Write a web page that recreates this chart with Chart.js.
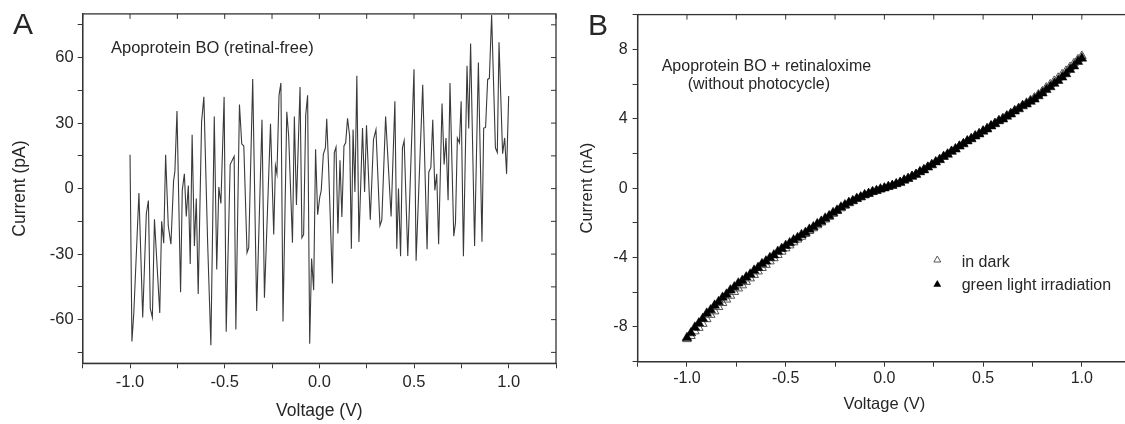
<!DOCTYPE html>
<html lang="en">
<head>
<meta charset="utf-8">
<title>Apoprotein BO current-voltage curves</title>
<style>
  html, body { margin: 0; padding: 0; background: #fff; overflow: hidden; }
  #wrap { position: relative; width: 1125px; height: 424px; overflow: hidden; }
  #chartA { position: absolute; left: 0; top: 0; }
  #chartB { position: absolute; left: 560px; top: 0; }
</style>
</head>
<body>
<div id="wrap">
  <canvas id="chartA" width="560" height="424"></canvas>
  <canvas id="chartB" width="580" height="424"></canvas>
</div>
<script src="https://cdn.jsdelivr.net/npm/chart.js"></script>
<script>
// panel A - apoprotein only, noisy trace in pA (vertices)
const voltsA = [-1.0, -0.99, -0.98, -0.953, -0.933, -0.914, -0.903, -0.893, -0.882, -0.871,
  -0.843, -0.833, -0.822, -0.812, -0.798, -0.784, -0.77, -0.763, -0.752, -0.733,
  -0.724, -0.713, -0.703, -0.692, -0.682, -0.672, -0.66, -0.65, -0.64, -0.622,
  -0.61, -0.59, -0.573, -0.555, -0.542, -0.531, -0.52, -0.503, -0.492, -0.471,
  -0.45, -0.441, -0.422, -0.41, -0.399, -0.382, -0.373, -0.352, -0.331, -0.303,
  -0.29, -0.258, -0.241, -0.232, -0.224, -0.213, -0.203, -0.192, -0.172, -0.162,
  -0.142, -0.132, -0.121, -0.102, -0.092, -0.083, -0.072, -0.062, -0.051, -0.041,
  -0.03, -0.02, -0.009, 0.002, 0.01, 0.021, 0.032, 0.039, 0.049, 0.069,
  0.079, 0.088, 0.098, 0.109, 0.119, 0.13, 0.139, 0.149, 0.16, 0.169,
  0.178, 0.188, 0.198, 0.209, 0.228, 0.239, 0.249, 0.269, 0.286, 0.299,
  0.32, 0.33, 0.35, 0.379, 0.399, 0.409, 0.418, 0.429, 0.439, 0.448,
  0.467, 0.5, 0.511, 0.546, 0.569, 0.578, 0.589, 0.599, 0.61, 0.62,
  0.63, 0.648, 0.659, 0.669, 0.68, 0.69, 0.71, 0.719, 0.729, 0.74,
  0.749, 0.761, 0.78, 0.789, 0.799, 0.82, 0.84, 0.859, 0.868, 0.878,
  0.889, 0.898, 0.91, 0.93, 0.94, 0.949, 0.968, 0.979, 0.989, 1.0];
const currentA = [15.5, -70, -57, -2, -59, -11.5, -5.5, -55, -59, -14,
  -57, -15, -25, 15.5, -17, -25.5, 3.5, 8, 35.5, -47.5,
  -0.7, 6.8, -12.8, 1.4, -34.5, 24.7, -26.3, -4.5, -48.3, 30.7,
  42, -25, -71.7, 33, -37, 0.7, -6.8, 42, -65.5, 11,
  14.8, -64.5, 38.5, 20.5, 19.5, -29.3, -27, 50.2, -56, 31.5,
  -50, 29.7, -21, 10.5, 6.7, 42.7, 48.4, -60.8, 35.2, 24,
  -24.8, 33, -7.5, 46.5, -22.5, -21, 33.7, 42.7, -71, -32,
  -46.5, 18, -12, -4, -0.8, 15.7, 18.7, 32, 9.7, -43.5,
  16.5, 19, -20.6, 13, -13, 19.5, 21, 32.2, 24, -27.5,
  27, -1.5, 51.7, -24.5, 27.7, -1.5, 29, -14.3, 22.5, 27,
  -17, -14.3, 33, -12.8, 40, -27.5, 0, -31, 18.7, 22,
  -30.8, 54.7, -33, 47.5, -27.8, 7.5, 9.7, 31.5, -0.8, 6.75,
  -25.5, 39, 11, 23.2, -5.3, 48.4, -21.8, -15.7, 23.2, 21,
  40, -31, 56.2, 27.5, 66.4, -26.3, 57.7, -24.3, 27.7, 28,
  50, 50.5, 79.5, 18.7, 16.5, 67, 16, 23.2, 6.75, 42.4];

// panel B - apoprotein + retinaloxime, nA
const voltsB = [-1.0, -0.98, -0.96, -0.94, -0.92, -0.9, -0.88, -0.86, -0.84, -0.82,
  -0.8, -0.78, -0.76, -0.74, -0.72, -0.7, -0.68, -0.66, -0.64, -0.62,
  -0.6, -0.58, -0.56, -0.54, -0.52, -0.5, -0.48, -0.46, -0.44, -0.42,
  -0.4, -0.38, -0.36, -0.34, -0.32, -0.3, -0.28, -0.26, -0.24, -0.22,
  -0.2, -0.18, -0.16, -0.14, -0.12, -0.1, -0.08, -0.06, -0.04, -0.02,
  0.0, 0.02, 0.04, 0.06, 0.08, 0.1, 0.12, 0.14, 0.16, 0.18,
  0.2, 0.22, 0.24, 0.26, 0.28, 0.3, 0.32, 0.34, 0.36, 0.38,
  0.4, 0.42, 0.44, 0.46, 0.48, 0.5, 0.52, 0.54, 0.56, 0.58,
  0.6, 0.62, 0.64, 0.66, 0.68, 0.7, 0.72, 0.74, 0.76, 0.78,
  0.8, 0.82, 0.84, 0.86, 0.88, 0.9, 0.92, 0.94, 0.96, 0.98, 1.0];
const darkB = [-8.7, -8.52, -8.25, -8.05, -7.82, -7.55, -7.3, -7.1, -6.85, -6.62,
  -6.42, -6.2, -5.98, -5.78, -5.6, -5.4, -5.2, -5.0, -4.8, -4.6,
  -4.42, -4.22, -4.04, -3.85, -3.66, -3.47, -3.3, -3.12, -2.96, -2.8,
  -2.64, -2.47, -2.31, -2.14, -1.98, -1.81, -1.65, -1.48, -1.32, -1.16,
  -1.01, -0.87, -0.75, -0.63, -0.52, -0.41, -0.31, -0.22, -0.14, -0.07,
  0.01, 0.09, 0.17, 0.25, 0.35, 0.46, 0.57, 0.69, 0.81, 0.95,
  1.08, 1.22, 1.37, 1.52, 1.67, 1.83, 1.98, 2.13, 2.28, 2.43,
  2.58, 2.73, 2.87, 3.02, 3.16, 3.31, 3.45, 3.6, 3.75, 3.9,
  4.03, 4.18, 4.32, 4.48, 4.62, 4.78, 4.92, 5.07, 5.22, 5.4,
  5.58, 5.8, 5.98, 6.18, 6.36, 6.56, 6.76, 6.98, 7.2, 7.42, 7.62];
const greenB = [-8.62, -8.35, -8.02, -7.78, -7.52, -7.22, -7.02, -6.76, -6.55, -6.3,
  -6.12, -5.88, -5.7, -5.48, -5.33, -5.13, -4.96, -4.74, -4.58, -4.36,
  -4.21, -4.01, -3.86, -3.65, -3.49, -3.31, -3.16, -2.99, -2.86, -2.69,
  -2.56, -2.38, -2.24, -2.06, -1.92, -1.74, -1.6, -1.42, -1.28, -1.1,
  -0.97, -0.83, -0.73, -0.6, -0.51, -0.39, -0.32, -0.21, -0.15, -0.06,
  0.0, 0.08, 0.14, 0.24, 0.32, 0.45, 0.54, 0.67, 0.78, 0.93,
  1.04, 1.2, 1.33, 1.5, 1.63, 1.81, 1.94, 2.11, 2.24, 2.41,
  2.54, 2.71, 2.83, 2.99, 3.11, 3.27, 3.4, 3.57, 3.7, 3.87,
  3.97, 4.13, 4.26, 4.43, 4.56, 4.73, 4.84, 4.99, 5.12, 5.31,
  5.47, 5.67, 5.83, 6.03, 6.19, 6.39, 6.58, 6.83, 7.03, 7.29, 7.48];

const xLabels = [-1.0, -0.5, 0.0, 0.5, 1.0];
const yLabelsA = [-60, -30, 0, 30, 60];
const yLabelsB = [-8, -4, 0, 4, 8];

const FONT = "'Liberation Sans', Arial, sans-serif";
const INK = '#262626';
Chart.defaults.font.family = FONT;
Chart.defaults.color = INK;

function pts(xs, ys) {
  return xs.map((v, i) => ({ x: v, y: ys[i] }));
}
function onlyAt(list, fmt) {
  return (v) => list.some(l => Math.abs(l - v) < 1e-6) ? fmt(v) : '';
}

// closes the box and puts the inward ticks on top/right, plus free text
function framePlugin(texts, legend) {
  return {
    id: 'frame',
    afterDraw(chart) {
      const { ctx, chartArea: a } = chart;
      const x = chart.scales.x, y = chart.scales.y;
      ctx.save();
      ctx.strokeStyle = '#333';
      ctx.lineWidth = 1.3;
      ctx.strokeRect(a.left, a.top, a.right - a.left, a.bottom - a.top);
      ctx.lineWidth = 1;
      ctx.beginPath();
      x.ticks.forEach(t => {
        const p = x.getPixelForValue(t.value);
        ctx.moveTo(p, a.top); ctx.lineTo(p, a.top + 5);
      });
      y.ticks.forEach(t => {
        const p = y.getPixelForValue(t.value);
        ctx.moveTo(a.right, p); ctx.lineTo(a.right - 5, p);
      });
      ctx.stroke();

      ctx.fillStyle = INK;
      ctx.textBaseline = 'alphabetic';
      texts.forEach(t => {
        ctx.font = t.size + 'px ' + FONT;
        ctx.fillText(t.text, t.x, t.y);
      });

      if (legend) {
        legend.forEach(l => {
          const r = l.r;
          ctx.beginPath();
          ctx.moveTo(l.x, l.y - r);
          ctx.lineTo(l.x + r * 0.866, l.y + r * 0.5);
          ctx.lineTo(l.x - r * 0.866, l.y + r * 0.5);
          ctx.closePath();
          if (l.filled) { ctx.fillStyle = '#000'; ctx.fill(); }
          else { ctx.strokeStyle = '#555'; ctx.lineWidth = 1; ctx.stroke(); }
          ctx.fillStyle = INK;
          ctx.font = '16px ' + FONT;
          ctx.fillText(l.text, l.tx, l.ty);
        });
      }
      ctx.restore();
    }
  };
}

function axis(opts) {
  return {
    type: 'linear',
    position: opts.position,
    min: opts.min, max: opts.max,
    afterFit: opts.afterFit,
    grid: { drawOnChartArea: false, drawTicks: true, tickLength: 5, color: '#333', lineWidth: 1 },
    border: { display: true, color: '#333', width: 1.3 },
    ticks: {
      stepSize: opts.step, includeBounds: false, autoSkip: false, maxRotation: 0,
      padding: opts.pad, font: { size: opts.tickSize }, color: INK,
      callback: opts.cb
    },
    title: { display: true, text: opts.title, font: { size: opts.titleSize }, color: INK, padding: opts.titlePad }
  };
}

new Chart(document.getElementById('chartA'), {
  type: 'scatter',
  data: {
    datasets: [{
      label: 'Apoprotein BO (retinal-free)',
      data: pts(voltsA, currentA),
      showLine: true, borderColor: '#3a3a3a', borderWidth: 1.1,
      pointRadius: 0, tension: 0
    }]
  },
  options: {
    responsive: false, animation: false, devicePixelRatio: 1,
    layout: { padding: { left: 0, top: 11, right: 3.3, bottom: 0 } },
    plugins: { legend: { display: false }, tooltip: { enabled: false } },
    scales: {
      x: axis({ position: 'bottom', min: -1.25, max: 1.25, step: 0.25, pad: 4, tickSize: 16.5,
        cb: onlyAt(xLabels, v => v.toFixed(1)), title: 'Voltage (V)', titleSize: 17.5,
        titlePad: { top: 0, bottom: 2.5 }, afterFit: s => { s.height = 60.7; } }),
      y: axis({ position: 'left', min: -80, max: 80, step: 15, pad: 4, tickSize: 16.5,
        cb: onlyAt(yLabelsA, v => String(v)), title: 'Current (pA)', titleSize: 17.5,
        titlePad: { top: 9.3, bottom: 0 }, afterFit: s => { s.width = 82.7; } })
    }
  },
  plugins: [framePlugin([
    { text: 'A', x: 13, y: 33.5, size: 30 },
    { text: 'Apoprotein BO (retinal-free)', x: 111, y: 52.5, size: 16.5 }
  ])]
});

new Chart(document.getElementById('chartB'), {
  type: 'scatter',
  data: {
    datasets: [{
      label: 'green light irradiation',
      data: pts(voltsB, greenB),
      pointStyle: 'triangle', pointRadius: 5.6,
      backgroundColor: '#000', borderColor: '#000', borderWidth: 0.5,
      order: 0
    }, {
      label: 'in dark',
      data: pts(voltsB, darkB),
      pointStyle: 'triangle', pointRadius: 5,
      backgroundColor: 'rgba(0,0,0,0)', borderColor: '#555', borderWidth: 1,
      order: 1
    }]
  },
  options: {
    responsive: false, animation: false, devicePixelRatio: 1,
    layout: { padding: { left: 0, top: 13.3, right: 8.8, bottom: 0 } },
    plugins: { legend: { display: false }, tooltip: { enabled: false } },
    scales: {
      x: axis({ position: 'bottom', min: -1.25, max: 1.25, step: 0.25, pad: 2, tickSize: 16,
        cb: onlyAt(xLabels, v => v.toFixed(1)), title: 'Voltage (V)', titleSize: 16.5,
        titlePad: { top: 0, bottom: 10 }, afterFit: s => { s.height = 62.3; } }),
      y: axis({ position: 'left', min: -10, max: 10, step: 2, pad: 5, tickSize: 16,
        cb: onlyAt(yLabelsB, v => String(v)), title: 'Current (nA)', titleSize: 16.5,
        titlePad: { top: 18, bottom: 0 }, afterFit: s => { s.width = 77.6; } })
    }
  },
  plugins: [framePlugin([
    { text: 'B', x: 28, y: 35, size: 30 },
    { text: 'Apoprotein BO + retinaloxime', x: 101.7, y: 70.7, size: 16 },
    { text: '(without photocycle)', x: 127.7, y: 89.3, size: 16 }
  ], [
    { x: 377.3, y: 260, r: 4, filled: false, text: 'in dark', tx: 401.7, ty: 266.5 },
    { x: 377.3, y: 284.5, r: 4.6, filled: true, text: 'green light irradiation', tx: 401.7, ty: 289.5 }
  ])]
});
</script>
</body>
</html>
